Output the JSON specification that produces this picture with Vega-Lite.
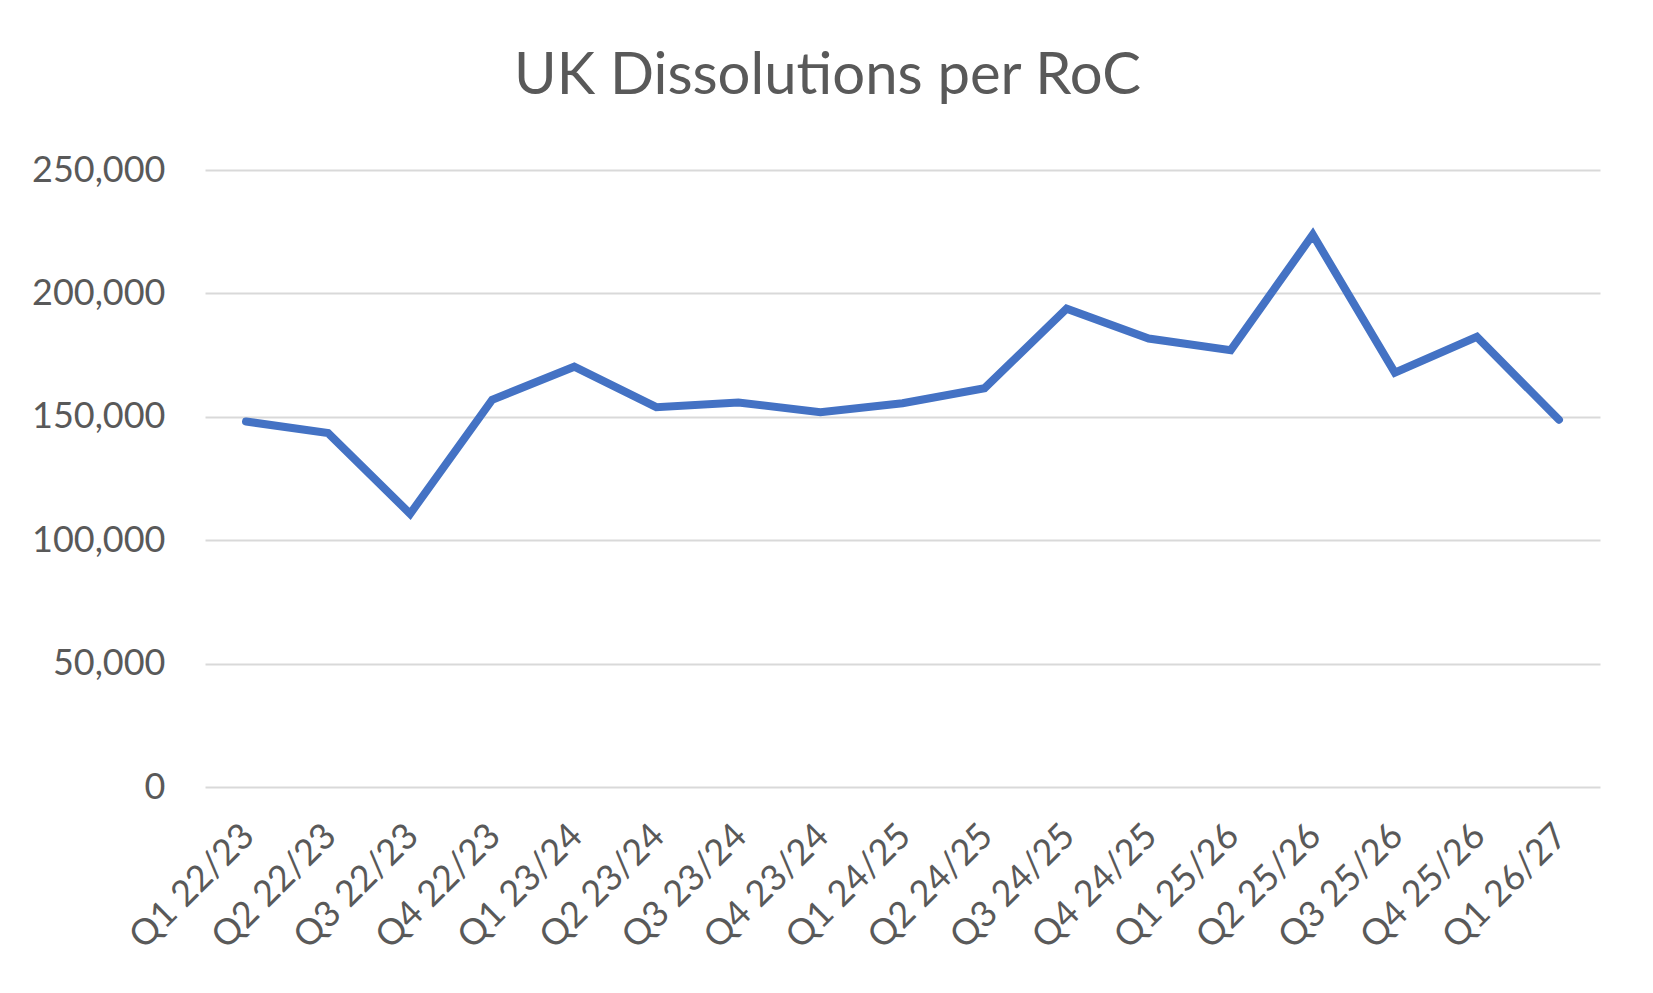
{
  "$schema": "https://vega.github.io/schema/vega-lite/v6.json",
  "autosize": "none",
  "width": 1395,
  "height": 617,
  "padding": {"left": 205, "top": 170, "right": 53, "bottom": 206},
  "background": "white",
  "title": {
    "text": "UK Dissolutions per RoC",
    "font": "Lato",
    "fontSize": 58,
    "fontWeight": "normal",
    "color": "#595959",
    "anchor": "middle",
    "frame": "group",
    "dx": -75,
    "baseline": "alphabetic",
    "offset": 0
  },
  "data": {
    "values": [
      {"quarter": "Q1 22/23", "dissolutions": 148100},
      {"quarter": "Q2 22/23", "dissolutions": 143400},
      {"quarter": "Q3 22/23", "dissolutions": 110700},
      {"quarter": "Q4 22/23", "dissolutions": 156900},
      {"quarter": "Q1 23/24", "dissolutions": 170300},
      {"quarter": "Q2 23/24", "dissolutions": 153900},
      {"quarter": "Q3 23/24", "dissolutions": 155800},
      {"quarter": "Q4 23/24", "dissolutions": 151900},
      {"quarter": "Q1 24/25", "dissolutions": 155500},
      {"quarter": "Q2 24/25", "dissolutions": 161600},
      {"quarter": "Q3 24/25", "dissolutions": 193800},
      {"quarter": "Q4 24/25", "dissolutions": 181700},
      {"quarter": "Q1 25/26", "dissolutions": 177000},
      {"quarter": "Q2 25/26", "dissolutions": 223800},
      {"quarter": "Q3 25/26", "dissolutions": 167900},
      {"quarter": "Q4 25/26", "dissolutions": 182400},
      {"quarter": "Q1 26/27", "dissolutions": 148800}
    ]
  },
  "mark": {"type": "line", "color": "#4472C4", "strokeWidth": 8, "strokeCap": "round", "strokeJoin": "miter"},
  "encoding": {
    "x": {
      "field": "quarter",
      "type": "ordinal",
      "sort": null,
      "scale": {"type": "point", "padding": 0.5},
      "axis": {
        "title": null,
        "domain": false,
        "ticks": false,
        "grid": false,
        "labelAngle": -45,
        "labelAlign": "right",
        "labelBaseline": "middle",
        "labelFont": "Lato",
        "labelFontSize": 36,
        "labelColor": "#595959",
        "labelPadding": 43,
        "labelOffset": 2
      }
    },
    "y": {
      "field": "dissolutions",
      "type": "quantitative",
      "scale": {"domain": [0, 250000], "nice": false, "zero": true},
      "axis": {
        "title": null,
        "values": [0, 50000, 100000, 150000, 200000, 250000],
        "format": ",d",
        "domain": false,
        "ticks": false,
        "grid": true,
        "gridColor": "#d9d9d9",
        "gridWidth": 2,
        "labelFont": "Lato",
        "labelFontSize": 36,
        "labelColor": "#595959",
        "labelPadding": 40
      }
    }
  },
  "config": {"view": {"stroke": null}}
}
